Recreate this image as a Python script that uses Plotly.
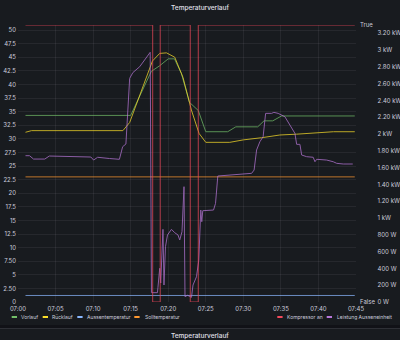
import plotly.graph_objects as go

DAY = "2024-01-15 "

# ---------------- data ----------------
vorlauf_t = ["07:01:00", "07:15:00", "07:17:45", "07:18:50", "07:20:00", "07:20:50", "07:21:45",
             "07:22:50", "07:24:00", "07:25:00", "07:27:55", "07:29:00", "07:31:55", "07:32:45",
             "07:33:55", "07:35:05", "07:44:50"]
vorlauf = [34.3, 34.3, 42.4, 43.4, 44.7, 44.7, 42.0, 36.7, 35.2, 31.3, 31.3, 32.2, 32.2, 33.3,
           33.3, 34.2, 34.2]

ruecklauf_t = ["07:01:00", "07:01:48", "07:13:58", "07:14:52", "07:17:54", "07:18:52", "07:19:46",
               "07:20:52", "07:21:58", "07:23:05", "07:24:06", "07:25:00", "07:28:12", "07:30:00",
               "07:32:26", "07:34:52", "07:37:05", "07:38:52", "07:40:12", "07:42:00", "07:44:50"]
ruecklauf = [31.2, 31.5, 31.5, 33.0, 44.3, 45.7, 45.8, 45.0, 41.3, 35.3, 31.0, 29.35, 29.35, 29.8,
             30.2, 30.7, 30.85, 31.0, 31.1, 31.3, 31.3]

aussen_t = ["07:01:00", "07:44:50"]
aussen = [1.2, 1.2]

soll_t = ["07:01:00", "07:44:50"]
soll = [23.0, 23.0]

kompressor_t = ["07:01:00", "07:17:56", "07:18:56", "07:22:56", "07:24:00", "07:44:50"]
kompressor = [1, 0, 1, 0, 1, 1]

leistung_t = ["07:01:00", "07:01:32", "07:02:04", "07:03:34", "07:04:10", "07:06:52", "07:09:42",
              "07:10:04", "07:10:36", "07:12:12", "07:13:30", "07:13:56", "07:14:22", "07:14:52",
              "07:15:18", "07:16:12", "07:17:18", "07:17:36", "07:17:46", "07:18:34", "07:18:38",
              "07:18:52", "07:19:00", "07:19:10", "07:19:18", "07:19:26", "07:19:38", "07:19:54",
              "07:20:26", "07:20:52", "07:21:18", "07:21:32", "07:21:50", "07:22:06", "07:22:14",
              "07:22:34", "07:22:52", "07:23:06", "07:23:18", "07:23:46", "07:24:04", "07:24:12",
              "07:24:20", "07:24:28", "07:24:36", "07:26:02", "07:26:18", "07:26:36", "07:28:52",
              "07:31:06", "07:31:26", "07:31:46", "07:32:12", "07:32:38", "07:32:58", "07:33:46",
              "07:34:04", "07:34:38", "07:35:32", "07:36:12", "07:36:52", "07:37:06", "07:37:32",
              "07:37:46", "07:38:26", "07:39:18", "07:39:32", "07:39:46", "07:41:06", "07:41:58",
              "07:42:26", "07:43:18", "07:44:34"]
leistung = [1742, 1742, 1702, 1702, 1738, 1732, 1726, 1690, 1723, 1708, 1699, 1849, 1881, 2663,
            2732, 2801, 2941, 2973, 111, 111, 175, 401, 226, 583, 865, 202, 658, 798, 865, 825,
            798, 738, 837, 1373, 63, 80, 63, 56, 202, 301, 500, 857, 1095, 956, 1087, 1095, 1175,
            1500, 1512, 1532, 1571, 1810, 1908, 1968, 2246, 2246, 2258, 2246, 2206, 2107, 2008,
            1877, 1877, 1750, 1730, 1723, 1670, 1699, 1690, 1670, 1651, 1643, 1643]

left_tickvals = [0, 2.5, 5, 7.5, 10, 12.5, 15, 17.5, 20, 22.5, 25, 27.5, 30, 32.5, 35, 37.5, 40,
                 42.5, 45, 47.5, 50]
left_ticktext = ["0", "2.50", "5", "7.50", "10", "12.5", "15", "17.5", "20", "22.5", "25", "27.5",
                 "30", "32.5", "35", "37.5", "40", "42.5", "45", "47.5", "50"]
right_tickvals = [0, 200, 400, 600, 800, 1000, 1200, 1400, 1600, 1800, 2000, 2200, 2400, 2600,
                  2800, 3000, 3200]
right_ticktext = ["0 W", "200 W", "400 W", "600 W", "800 W", "1 kW", "1.20 kW", "1.40 kW",
                  "1.60 kW", "1.80 kW", "2 kW", "2.20 kW", "2.40 kW", "2.60 kW", "2.80 kW",
                  "3 kW", "3.20 kW"]
bool_tickvals = [0, 1]
bool_ticktext = ["False", "True"]

names = ["Vorlauf", "Rücklauf", "Aussentemperatur", "Solltemperatur", "Kompressor an",
         "Leistung Ausseneinheit"]
colors = ["#73BF69", "#FADE2A", "#8AB8FF", "#FF9830", "#F2495C", "#B877D9"]

# ---------------- layout helpers ----------------
W, H = 400, 340
ML, MR, MT, MB = 18, 0, 25, 38
PW, PH = W - ML - MR, H - MT - MB


def px(x):
    return (x - ML) / PW


def py(y):
    return (H - MB - y) / PH


BG = "#181b1f"
TXT = "#ccccdc"
GRID = "rgba(204,204,220,0.08)"
FONT = "Inter"


def ts(lst):
    return [DAY + t for t in lst]


fig = go.Figure()
series = [
    (vorlauf_t, vorlauf, "y"),
    (ruecklauf_t, ruecklauf, "y"),
    (aussen_t, aussen, "y"),
    (soll_t, soll, "y"),
    (kompressor_t, kompressor, "y3"),
    (leistung_t, leistung, "y2"),
]
for (t, v, ax), n, c in zip(series, names, colors):
    fig.add_trace(go.Scatter(
        x=ts(t), y=v, name=n, mode="lines", yaxis=ax,
        line=dict(color=c, width=1, shape="hv" if ax == "y3" else "linear"),
        opacity=0.72, showlegend=False,
    ))

tickfont = dict(family=FONT, size=6, color=TXT)
fig.update_layout(
    width=W, height=H,
    margin=dict(l=ML, r=MR, t=MT, b=MB, autoexpand=False),
    paper_bgcolor=BG, plot_bgcolor=BG,
    title=dict(text="Temperaturverlauf", x=0.5, xanchor="center", xref="container",
               y=1 - 8 / H, yanchor="middle", yref="container", automargin=False,
               font=dict(family=FONT, size=6.5, color="#e0e0ea", weight=500)),
    showlegend=False,
    xaxis=dict(domain=[0, px(356)], type="date", automargin=False,
               range=[DAY + "07:00:00", DAY + "07:45:00"],
               dtick=5 * 60 * 1000, tick0=DAY + "07:00:00", tickformat="%H:%M",
               showgrid=True, gridcolor=GRID, gridwidth=1, zeroline=False,
               showline=False, ticks="", tickfont=tickfont, ticklabelstandoff=2),
    yaxis=dict(range=[0, 50.92], tickvals=left_tickvals, ticktext=left_ticktext,
               automargin=False,
               showgrid=True, gridcolor=GRID, zeroline=False, showline=False, ticks="",
               tickfont=tickfont, ticklabelstandoff=1),
    yaxis2=dict(range=[0, 3298], tickvals=right_tickvals, ticktext=right_ticktext,
                overlaying="y", side="right", anchor="free", position=px(376.5),
                automargin=False,
                showgrid=False, zeroline=False, showline=False, ticks="",
                tickfont=tickfont, ticklabelstandoff=0),
    yaxis3=dict(range=[0, 1], tickvals=bool_tickvals, ticktext=bool_ticktext,
                overlaying="y", side="right", anchor="x", automargin=False,
                showgrid=False, zeroline=False, showline=False, ticks="",
                tickfont=tickfont, ticklabelstandoff=3),
)

# legend (Grafana-style compact legend, drawn as real text)
legend_items = [
    (0, 11.7, 20.0), (1, 42.7, 51.7), (2, 77.3, 86.0), (3, 134.3, 144.0),
    (4, 277.3, 286.0), (5, 326.7, 336.0),
]
shapes = []
annotations = []
LY = 317
for idx, x0, xt in legend_items:
    shapes.append(dict(type="line", xref="paper", yref="paper", x0=px(x0), x1=px(x0 + 5.3),
                       y0=py(LY), y1=py(LY), line=dict(color=colors[idx], width=2)))
    annotations.append(dict(text=names[idx], xref="paper", yref="paper", x=px(xt - 0.5), y=py(LY),
                            xanchor="left", yanchor="middle", showarrow=False, borderpad=0,
                            font=dict(family=FONT, size=5, color=TXT)))

# panel separator and next panel header
shapes.append(dict(type="rect", xref="paper", yref="paper", x0=px(-5), x1=px(405),
                   y0=py(325), y1=py(328), fillcolor="#111217", line=dict(width=0), layer="above"))
shapes.append(dict(type="line", xref="paper", yref="paper", x0=px(0), x1=px(400),
                   y0=py(328.5), y1=py(328.5), line=dict(color="rgba(204,204,220,0.12)", width=1)))
annotations.append(dict(text="Temperaturverlauf", xref="paper", yref="paper", x=px(200), y=py(336),
                        xanchor="center", yanchor="middle", showarrow=False,
                        font=dict(family=FONT, size=6.5, color="#e0e0ea", weight=500)))

fig.update_layout(shapes=shapes, annotations=annotations)
fig.write_html("out.html")
